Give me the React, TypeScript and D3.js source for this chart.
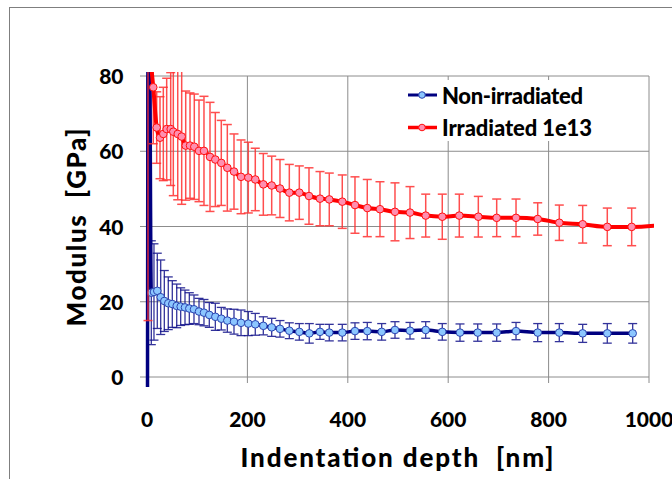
import React from "react";
import * as d3 from "d3";

// ---- data ----
const xTicks = [0, 200, 400, 600, 800, 1000];
const yTicks = [0, 20, 40, 60, 80];

const seriesNames = ["Non-irradiated", "Irradiated 1e13"];

const blueDepth = [1, 3, 8.6, 13.9, 20.5, 27.3, 34.5, 42.4, 50.4, 59.2, 67.1, 75.7, 84.3, 93.6, 103.6, 113.5, 124.1, 136.1, 148, 160, 173.3, 187.3, 201.8, 215.7, 231.7, 248.4, 264.9, 283.5, 303.4, 323.3, 344.6, 363.1, 389, 414.3, 438.8, 467.5, 494, 523.9, 555.2, 588.2, 623.5, 658.8, 696.6, 735.1, 778.3, 821.3, 867.9, 916.9, 967.5];
const blueModulus = [-5, 150, 22.4, 22.6, 22.9, 21.2, 20.2, 19.6, 19.4, 18.9, 18.7, 18.5, 18.2, 18.0, 17.4, 17.1, 16.5, 16.0, 15.5, 15.0, 14.7, 14.4, 14.2, 14.0, 13.6, 13.2, 12.8, 12.3, 12.0, 11.6, 12.0, 11.8, 11.8, 12.2, 12.2, 12.0, 12.5, 12.3, 12.5, 12.0, 11.8, 11.8, 11.8, 12.2, 11.8, 11.8, 11.6, 11.6, 11.6];
const blueError = [0, 0, 13.8, 12.8, 10, 9.9, 8.1, 7, 6.2, 5.8, 5, 4.6, 4.2, 3.8, 3.5, 3.5, 3.3, 3.6, 3, 3.1, 3.3, 3.4, 3.2, 2.9, 2.4, 2.4, 2.2, 2.1, 2.2, 2.6, 2, 2.2, 2.2, 2.2, 2.3, 2.2, 2.2, 2.2, 2.2, 2.2, 2.3, 2.3, 2.3, 2.3, 2.4, 2.4, 2.4, 2.6, 2.6];

const redDepth = [2, 12.5, 19.3, 25.9, 32.5, 39.2, 47.2, 52.4, 61.2, 69.1, 77.1, 85.7, 94.2, 103.6, 113.5, 125.5, 136.1, 148, 160, 173.3, 187.3, 201.8, 215.7, 231.7, 248.4, 264.9, 283.5, 303.4, 322.7, 344.6, 363.1, 389, 414.3, 438.8, 464.1, 494, 523.9, 555.2, 588.2, 622.1, 660, 696.6, 735.1, 778.3, 821.3, 867.9, 916.9, 965.5, 1040];
const redModulus = [90, 77.0, 66.3, 63.6, 64.6, 65.9, 65.9, 65.2, 64.6, 63.9, 61.5, 61.5, 61.2, 60.1, 60.1, 58.5, 57.8, 56.9, 55.6, 54.6, 53.2, 53.0, 52.5, 51.2, 50.9, 50.1, 49.0, 49.0, 48.1, 47.4, 47.2, 46.6, 45.7, 44.9, 44.6, 43.9, 43.7, 42.9, 42.6, 42.9, 42.6, 42.3, 42.3, 42.0, 41.0, 40.6, 39.9, 39.9, 40.6];
const redError = [75, 15, 9.5, 10.9, 12.4, 13.5, 15, 17, 17.5, 18, 14.5, 14, 14, 13.5, 14.5, 14.5, 12.5, 11.3, 11.5, 10, 9.8, 9.4, 8.3, 8.2, 7.8, 7.7, 7.5, 7.1, 7.5, 7.2, 7, 7.1, 7.5, 7.6, 7.3, 7.7, 6.9, 5.7, 6, 5.7, 5.4, 5, 5, 4.3, 4.7, 5, 5, 5, 0];

const FONT = "Lato, 'Open Sans', 'DejaVu Sans', sans-serif";

type Pt = { d: number; v: number; e: number };
const zip = (ds: number[], vs: number[], es: number[]): Pt[] => ds.map((d, i) => ({ d, v: vs[i], e: es[i] }));

const series = [
  { name: seriesNames[0], pts: zip(blueDepth, blueModulus, blueError), line: "#000080", lw: 3.5, errColor: "#10108a", errW: 1.3, mFill: "#8cc6ff", mStroke: "#2a44b0" },
  { name: seriesNames[1], pts: zip(redDepth, redModulus, redError), line: "#ff0000", lw: 4, errColor: "#ff3030", errW: 1.5, mFill: "#ff8fb0", mStroke: "#ff1010" },
];

export default function App() {
  const W = 672, H = 479;
  const x = d3.scaleLinear().domain([0, 1000]).range([147, 649]);
  const y = d3.scaleLinear().domain([0, 80]).range([377, 76]);
  const line = d3.line<Pt>().x((p) => x(p.d)).y((p) => y(p.v)).curve(d3.curveMonotoneX);
  const grid = "#8c8c8c";
  const cap = 4.5;

  return (
    <svg width={W} height={H} style={{ position: "absolute", left: 0, top: 0, background: "#fff" }} fontFamily={FONT}>
      <defs>
        <clipPath id="plotclip">
          <rect x={140} y={72} width={514} height={315} />
        </clipPath>
      </defs>
      <rect x={0} y={0} width={W} height={H} fill="#fff" />
      <rect x={9.5} y={7.5} width={700} height={500} fill="#fff" stroke="#7f7f7f" strokeWidth={1} />

      {/* gridlines */}
      {yTicks.map((t) => (
        <line key={"gy" + t} x1={140} x2={x(1000)} y1={y(t)} y2={y(t)} stroke={grid} strokeWidth={1} />
      ))}
      {xTicks.map((t) => (
        <line key={"gx" + t} x1={x(t)} x2={x(t)} y1={y(80)} y2={y(0) + 6} stroke={grid} strokeWidth={1} />
      ))}
      <line x1={x(0)} x2={x(0)} y1={y(80)} y2={y(0) + 3} stroke={grid} strokeWidth={1.2} />

      {/* tick labels */}
      {yTicks.map((t) => (
        <text key={"ly" + t} x={123.5} y={y(t) + 8} textAnchor="end" fontSize={21} fontWeight="900" fill="#000">{t}</text>
      ))}
      {xTicks.map((t) => (
        <text key={"lx" + t} x={x(t)} y={427} textAnchor="middle" fontSize={21} fontWeight="900" fill="#000">{t}</text>
      ))}

      {/* axis titles */}
      <text x={397} y={467} textAnchor="middle" fontSize={26} fontWeight="900" textLength={313} lengthAdjust="spacing" style={{ whiteSpace: "pre" }}>Indentation depth  [nm]</text>
      <text transform="translate(86,227.5) rotate(-90)" textAnchor="middle" fontSize={26} fontWeight="900" textLength={198} lengthAdjust="spacing" style={{ whiteSpace: "pre" }}>Modulus  [GPa]</text>

      {/* series */}
      <g clipPath="url(#plotclip)">
        {series.map((s, si) => (
          <g key={"s" + si}>
            {s.pts.filter((p) => p.e > 0).map((p, i) => (
              <g key={"e" + i} stroke={s.errColor} strokeWidth={s.errW} opacity={0.85}>
                <line x1={x(p.d)} x2={x(p.d)} y1={y(p.v + p.e)} y2={y(p.v - p.e)} />
                <line x1={x(p.d) - cap} x2={x(p.d) + cap} y1={y(p.v + p.e)} y2={y(p.v + p.e)} />
                <line x1={x(p.d) - cap} x2={x(p.d) + cap} y1={y(p.v - p.e)} y2={y(p.v - p.e)} />
              </g>
            ))}
            <path d={line(s.pts) || ""} fill="none" stroke={s.line} strokeWidth={s.lw} strokeLinejoin="round" />
            {s.pts.map((p, i) => (
              <circle key={"m" + i} cx={x(p.d)} cy={y(p.v)} r={3.8} fill={s.mFill} stroke={s.mStroke} strokeWidth={1} />
            ))}
          </g>
        ))}
      </g>

      {/* legend */}
      <rect x={398} y={80} width={202} height={61} fill="#fff" />
      {series.map((s, i) => {
        const cy = i === 0 ? 95 : 127.5;
        return (
          <g key={"lg" + i}>
            <line x1={408} x2={437} y1={cy} y2={cy} stroke={s.line} strokeWidth={s.lw - 0.5} />
            <circle cx={422} cy={cy} r={3.3} fill={s.mFill} stroke={s.mStroke} strokeWidth={1} />
            <text x={442} y={cy + 8.5} fontSize={22} fontWeight="900" textLength={i === 0 ? 141 : 150} lengthAdjust="spacing">{s.name}</text>
          </g>
        );
      })}
    </svg>
  );
}
